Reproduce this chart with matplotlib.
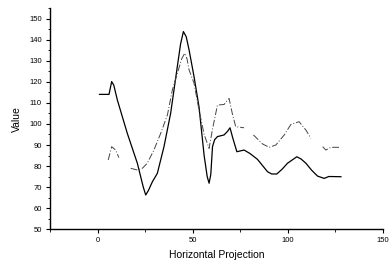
import numpy as np
import matplotlib
matplotlib.use("Agg")
import matplotlib.pyplot as plt
from matplotlib.ticker import MultipleLocator

# Solid series
x_solid = [1, 6, 7.4, 8.5, 10.4, 15.6, 20.9, 24, 25.3, 26.8, 28.8, 31.4, 34.9, 38.4, 41.9, 43.6,
           45.1, 46.6, 48.1, 50.7, 53.3, 56, 57.6, 58.6, 59.5, 60.4, 61.5, 63, 66.5, 68.3,
           69.6, 71, 73.2, 77, 80, 84, 89.3, 91.5, 94.2, 97, 99.8, 104.7, 107, 109.5, 112.5,
           115.6, 119.1, 121.5, 127.9]
y_solid = [114.1, 114.1, 120.2, 118.5, 111.4, 95.6, 81.3, 70, 66.2, 68.5, 72.5, 76.5, 89.2, 105.1,
           127.3, 138, 144, 141.5, 135.2, 122.5, 108.2, 85, 75, 71.8, 76, 89.2, 92.5, 94,
           94.8, 96.5, 98.2, 93.5, 86.8, 87.6, 86, 83.2, 77.3, 76.2, 76.2, 78.5, 81.3, 84.4,
           83.3, 81.3, 78, 75.2, 74.1, 75, 74.9]

# Dash-dot series (NaN = gap)
x_dash = [5.6, 7.4, 9.5, 11.2, 14, 17.4, 20.9, 23.5, 26.1, 29.6, 33.2, 36.7, 39.3, 41.9,
          44.2, 45.8, 47, 48.1, 50.7, 53.3, 56, 58.6, 60.5, 63, 66.5, 69.1, 70.8, 72.6, 77,
          79.5, 81.9, 86.7, 90.2, 93.7, 98.1, 101.6, 105.9, 109.5, 112.1, 115, 118.3, 120,
          122.6, 127]
y_dash = [82.9, 89.2, 87.6, 84, np.nan, 78.9, 78.1, 78.9, 81.3, 87.6, 95.6, 104.3, 116.2, 124.1,
          131, 133.7, 131, 125.7, 119.4, 106.7, 95, 88.4, 98, 109, 109.3, 112.2, 105, 98.7, 98.2,
          np.nan, 94.8, 90.5, 88.9, 90, 94.8, 99.8, 101.1, 97.1, 93.2, np.nan, 89.2, 87.6,
          88.9, 88.9]

plt.rcParams['font.family'] = ['Liberation Sans', 'DejaVu Sans']

fig = plt.figure(figsize=(3.92, 2.65), dpi=100)
ax = fig.add_axes([0.1276, 0.1358, 0.977 - 0.1276, 0.968 - 0.1358])

ax.plot(x_solid, y_solid, color='black', lw=0.9)
ax.plot(x_dash, y_dash, color='#444444', lw=0.7, linestyle=(0, (7, 2, 1, 2)))

ax.set_xlim(-25, 150)
ax.set_ylim(50, 155)
ax.spines['top'].set_visible(False)
ax.spines['right'].set_visible(False)
ax.spines['left'].set_linewidth(1.0)
ax.spines['bottom'].set_linewidth(1.0)
ax.xaxis.set_major_locator(MultipleLocator(50))
ax.xaxis.set_minor_locator(MultipleLocator(25))
ax.yaxis.set_major_locator(MultipleLocator(10))
ax.yaxis.set_minor_locator(MultipleLocator(5))
ax.tick_params(which='major', length=3, width=0.8, labelsize=5.5, pad=3)
ax.tick_params(which='minor', length=1.8, width=0.6)
ax.set_xlabel('Horizontal Projection', fontsize=7.5, labelpad=4)
ax.set_ylabel('Value', fontsize=7.5, labelpad=5)

fig.savefig('out.png', dpi=100)
